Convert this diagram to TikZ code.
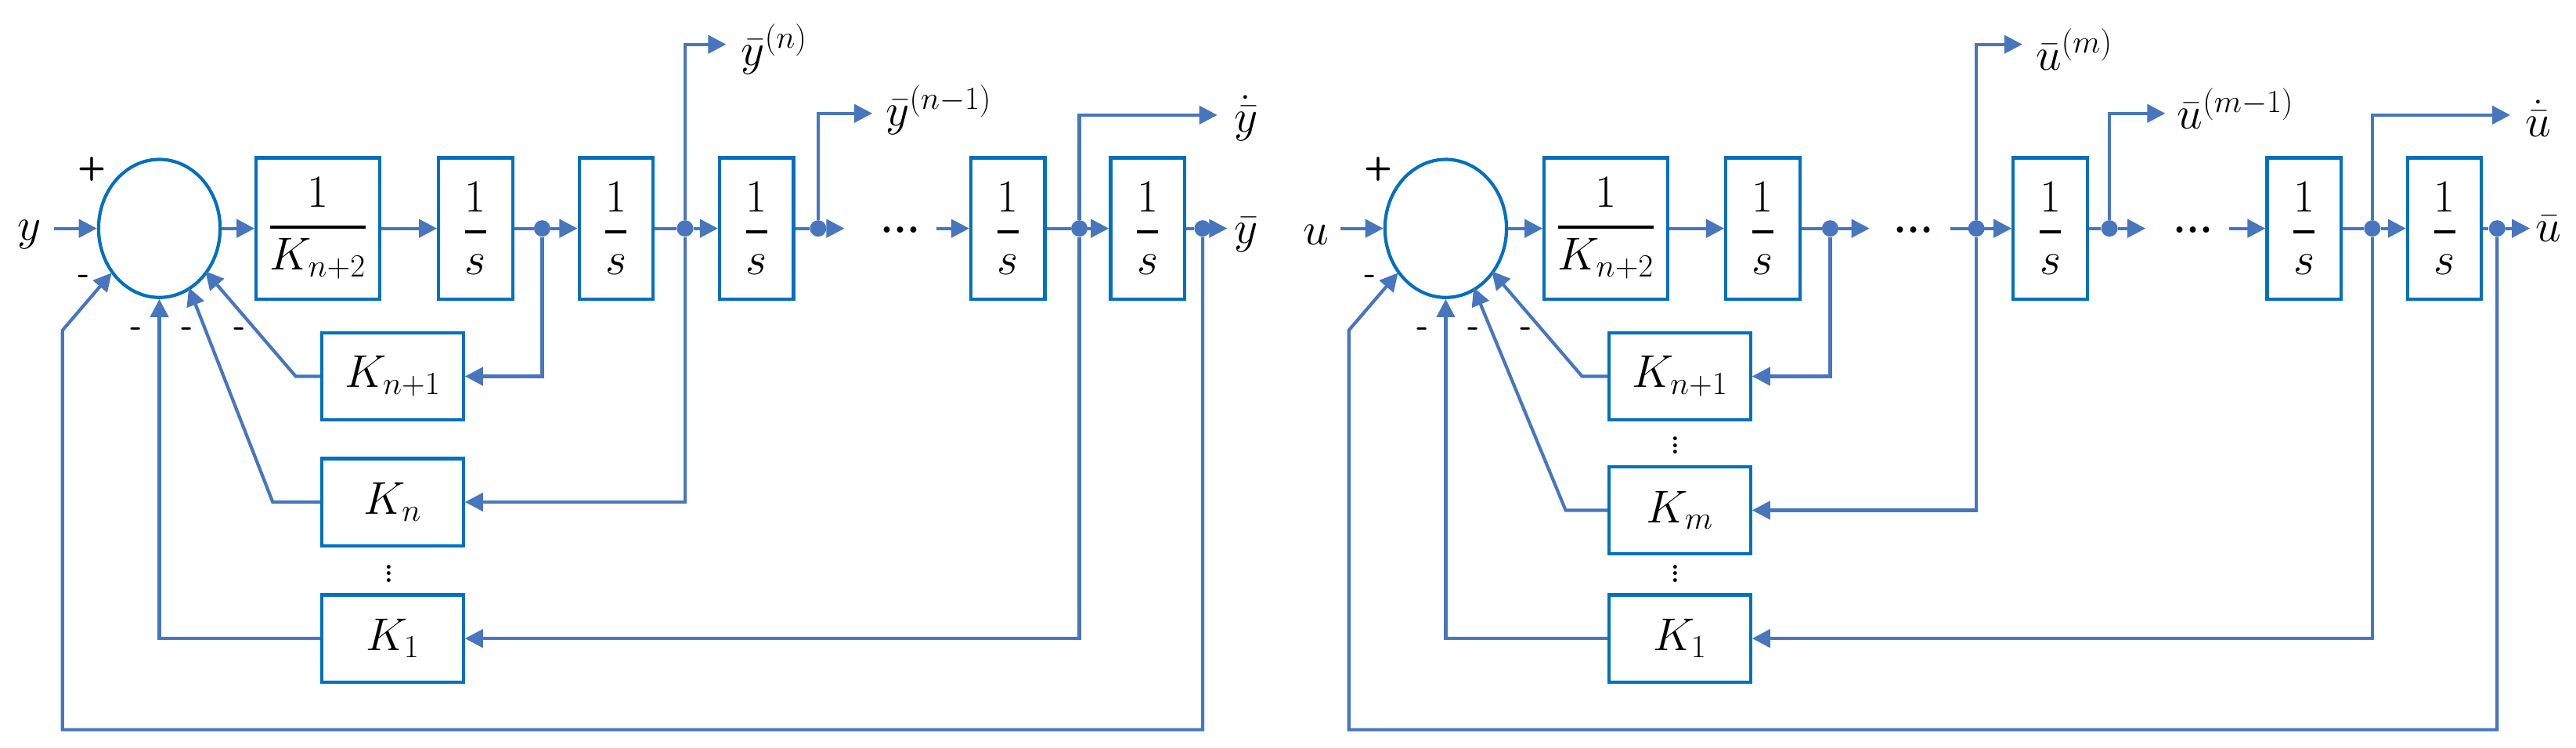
\documentclass[tikz,border=0pt]{standalone}
\usepackage{fix-cm}
\usetikzlibrary{arrows.meta,calc,shapes.geometric}
\definecolor{ln}{RGB}{71,118,190}
\definecolor{bx}{RGB}{0,112,192}
\newcommand{\tfr}[2]{\displaystyle{{#1}\above 2pt{#2}}}
\begin{document}
\begin{tikzpicture}[x=1pt,y=-1pt,
  wire/.style={draw=ln,line width=2pt},
  arr/.style={wire,-{Triangle[length=11pt,width=11pt]}},
  blk/.style={draw=bx,line width=2pt,inner sep=0pt,minimum height=86pt,font=\fontsize{28}{32}\selectfont},
  sblk/.style={blk,minimum width=45pt},
  kblk/.style={draw=bx,line width=2pt,inner sep=0pt,minimum width=86pt,minimum height=53pt,font=\fontsize{28}{32}\selectfont},
  sum/.style={draw=bx,line width=2pt,ellipse,minimum width=74pt,minimum height=84pt,inner sep=0pt},
  dot/.style={circle,fill=ln,inner sep=0pt,minimum size=10pt},
  lbl/.style={inner sep=1pt,font=\fontsize{28}{32}\selectfont},
  dts/.style={inner sep=1pt,font=\bfseries\fontsize{26}{30}\selectfont},
  sgn/.style={inner sep=0pt,font=\bfseries\sffamily\fontsize{20}{24}\selectfont}]
\useasboundingbox (0,0) rectangle (1568,455);
% ================= LEFT =================
\node[lbl] (yin) at (18,143) {$y$};
\coordinate (yst) at (33,139);
\node[sum] (Ls) at (97,139) {};
\node[sgn] (Lp) at (56,103) {+};
\node[sgn] (Lm0) at (51,170) {-};
\node[sgn] (Lm1) at (83,202) {-};
\node[sgn] (Lm2) at (114,202) {-};
\node[sgn] (Lm3) at (146,202) {-};
\node[blk,minimum width=75pt] (LK) at (193.5,139) {$\tfr{1}{K_{n+2}}$};
\node[sblk] (L1) at (289.5,139) {$\tfr{1}{s}$};
\node[sblk] (L2) at (375,139) {$\tfr{1}{s}$};
\node[sblk] (L3) at (460.5,139) {$\tfr{1}{s}$};
\node[sblk] (L4) at (613.5,139) {$\tfr{1}{s}$};
\node[sblk] (L5) at (698.5,139) {$\tfr{1}{s}$};
\node[dot] (Ld1) at (330,139) {};
\node[dot] (Ld2) at (417,139) {};
\node[dot] (Ld3) at (498,139) {};
\node[dot] (Ld4) at (657,139) {};
\node[dot] (Ld5) at (732,139) {};
\coordinate (Le3) at (514,139);
\node[dts] (Ldots) at (548,140) {...};
\coordinate (Ls4) at (570,139);
\coordinate (Le5) at (747,139);
\node[lbl,anchor=west] (Lyb) at (750,143) {$\bar{y}$};
\node[kblk] (LKn1) at (239,229) {$K_{n+1}$};
\node[kblk] (LKn) at (239,305.5) {$K_{n}$};
\node[lbl] (Lvd) at (237,346) {$\vdots$};
\node[kblk] (LK1) at (239,388.5) {$K_{1}$};
% forward path
\draw[arr] (yst) -- (Ls.west);
\draw[arr] (Ls.east) -- (LK.west);
\draw[arr] (LK.east) -- (L1.west);
\draw[wire] (L1.east) -- (Ld1);
\draw[arr] (Ld1) -- (L2.west);
\draw[wire] (L2.east) -- (Ld2);
\draw[arr] (Ld2) -- (L3.west);
\draw[wire] (L3.east) -- (Ld3);
\draw[arr] (Ld3) -- (Le3);
\draw[arr] (Ls4) -- (L4.west);
\draw[wire] (L4.east) -- (Ld4);
\draw[arr] (Ld4) -- (L5.west);
\draw[wire] (L5.east) -- (Ld5);
\draw[arr] (Ld5) -- (Le5);
% outputs
\coordinate (Lo2) at (442,27);
\coordinate (Lo3) at (531,69);
\coordinate (Lo4) at (741,70);
\draw[arr] (Ld2) |- (Lo2);
\draw[arr] (Ld3) |- (Lo3);
\draw[arr] (Ld4) |- (Lo4);
\node[lbl,anchor=west] (Lt2) at (450,30) {$\bar{y}^{(n)}$};
\node[lbl,anchor=west] (Lt3) at (538,67) {$\bar{y}^{(n-1)}$};
\node[lbl,anchor=west] (Lt4) at (750,72) {$\dot{\bar{y}}$};
% feedback
\draw[arr] (Ld1) |- (LKn1.east);
\draw[arr] (Ld2) |- (LKn.east);
\draw[arr] (Ld4) |- (LK1.east);
\coordinate (Lb1) at (180,229);
\coordinate (Lb2) at (166,305.5);
\coordinate (Lb3) at (97,388.5);
\draw[arr] (LKn1.west) -- (Lb1) -- (125,165);
\draw[arr] (LKn.west) -- (Lb2) -- (115,175);
\draw[arr] (LK1.west) -- (Lb3) -- (Ls.south);
\coordinate (Lbb) at (38,444);
\coordinate (Lbu) at (38,201);
\draw[arr] (Ld5) |- (Lbb) -- (Lbu) -- (68,166);
% ================= RIGHT =================
\node[lbl] (uin) at (801,143) {$u$};
\coordinate (ust) at (816,139);
\node[sum] (Rs) at (880,139) {};
\node[sgn] (Rp) at (839,103) {+};
\node[sgn] (Rm0) at (834,170) {-};
\node[sgn] (Rm1) at (866,202) {-};
\node[sgn] (Rm2) at (897,202) {-};
\node[sgn] (Rm3) at (929,202) {-};
\node[blk,minimum width=75pt] (RK) at (977.5,139) {$\tfr{1}{K_{n+2}}$};
\node[sblk] (R1) at (1073,139) {$\tfr{1}{s}$};
\node[sblk] (R2) at (1248,139) {$\tfr{1}{s}$};
\node[sblk] (R3) at (1402.5,139) {$\tfr{1}{s}$};
\node[sblk] (R4) at (1488,139) {$\tfr{1}{s}$};
\node[dot] (Rd1) at (1114,139) {};
\node[dot] (Rd2) at (1203,139) {};
\node[dot] (Rd3) at (1284,139) {};
\node[dot] (Rd4) at (1444,139) {};
\node[dot] (Rd5) at (1520,139) {};
\coordinate (Re1) at (1138,139);
\node[dts] (Rdots1) at (1165,140) {...};
\coordinate (Rs2) at (1187,139);
\coordinate (Re3) at (1306,139);
\node[dts] (Rdots2) at (1335,140) {...};
\coordinate (Rs3) at (1357,139);
\coordinate (Re5) at (1540,139);
\node[lbl,anchor=west] (Rub) at (1542,139) {$\bar{u}$};
\node[kblk] (RKn1) at (1022.5,229) {$K_{n+1}$};
\node[lbl] (Rvd1) at (1020,268) {$\vdots$};
\node[kblk] (RKm) at (1022.5,310.5) {$K_{m}$};
\node[lbl] (Rvd2) at (1020,346) {$\vdots$};
\node[kblk] (RK1) at (1022.5,388.5) {$K_{1}$};
\draw[arr] (ust) -- (Rs.west);
\draw[arr] (Rs.east) -- (RK.west);
\draw[arr] (RK.east) -- (R1.west);
\draw[wire] (R1.east) -- (Rd1);
\draw[arr] (Rd1) -- (Re1);
\draw[arr] (Rs2) -- (R2.west);
\draw[wire] (R2.east) -- (Rd3);
\draw[arr] (Rd3) -- (Re3);
\draw[arr] (Rs3) -- (R3.west);
\draw[wire] (R3.east) -- (Rd4);
\draw[arr] (Rd4) -- (R4.west);
\draw[wire] (R4.east) -- (Rd5);
\draw[arr] (Rd5) -- (Re5);
\coordinate (Ro2) at (1231,27);
\coordinate (Ro3) at (1318,69);
\coordinate (Ro4) at (1528,70);
\draw[arr] (Rd2) |- (Ro2);
\draw[arr] (Rd3) |- (Ro3);
\draw[arr] (Rd4) |- (Ro4);
\node[lbl,anchor=west] (Rt2) at (1238,30) {$\bar{u}^{(m)}$};
\node[lbl,anchor=west] (Rt3) at (1324,66) {$\bar{u}^{(m-1)}$};
\node[lbl,anchor=west] (Rt4) at (1536,72) {$\dot{\bar{u}}$};
\draw[arr] (Rd1) |- (RKn1.east);
\draw[arr] (Rd2) |- (RKm.east);
\draw[arr] (Rd4) |- (RK1.east);
\coordinate (Rb1) at (963,229);
\coordinate (Rb2) at (953,310.5);
\coordinate (Rb3) at (880,388.5);
\draw[arr] (RKn1.west) -- (Rb1) -- (908,165);
\draw[arr] (RKm.west) -- (Rb2) -- (897,175);
\draw[arr] (RK1.west) -- (Rb3) -- (Rs.south);
\coordinate (Rbb) at (821,444);
\coordinate (Rbu) at (821,201);
\draw[arr] (Rd5) |- (Rbb) -- (Rbu) -- (851,166);
\end{tikzpicture}
\end{document}
